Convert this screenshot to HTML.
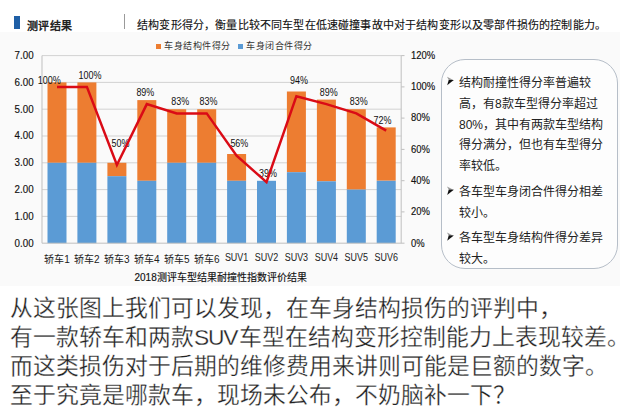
<!DOCTYPE html>
<html lang="zh-CN">
<head>
<meta charset="utf-8">
<style>
html,body{margin:0;padding:0;}
body{width:620px;height:417px;overflow:hidden;background:#fff;position:relative;font-family:"Liberation Sans",sans-serif;color:#222;}
.a{position:absolute;white-space:nowrap;line-height:1;}
#ttl{left:27px;top:20.5px;font-size:11px;letter-spacing:0.4px;font-weight:bold;color:#222;}
#bar{left:14px;top:16px;width:6px;height:13px;background:#1f5fa6;}
#sep{left:124px;top:14px;width:1px;height:15px;background:#9a9a9a;}
#hdr{left:137px;top:20px;font-size:11px;letter-spacing:0.17px;color:#111;-webkit-text-stroke:0.12px #111;}
.lg{font-size:9px;color:#333;top:42px;letter-spacing:0.5px;}
.sq{width:5px;height:5px;top:44px;}
#box{left:441px;top:59px;width:174.5px;height:208px;border:1.3px solid #b6bec8;background:#fdfdfd;border-radius:24px;}
.bt{font-size:12px;color:#222;}
.bl{font-size:9px;color:#111;}
#bottom{left:10px;top:294px;font-size:22.8px;line-height:29px;color:#222;-webkit-text-stroke:0.3px #fff;}
</style>
</head>
<body>
<div class="a" style="left:0;top:32px;width:620px;height:254px;background:#fafafa"></div>
<div id="bar" class="a"></div>
<div id="ttl" class="a">测评结果</div>
<div id="sep" class="a"></div>
<div id="hdr" class="a">结构变形得分，衡量比较不同车型在低速碰撞事故中对于结构变形以及零部件损伤的控制能力。</div>

<div class="a sq" style="left:156px;background:#ED7D31"></div>
<div class="a lg" style="left:164px">车身结构件得分</div>
<div class="a sq" style="left:238px;background:#5B9BD5"></div>
<div class="a lg" style="left:246px">车身闭合件得分</div>

<svg class="a" style="left:0;top:0" width="620" height="417" viewBox="0 0 620 417">
<g stroke="#d2d2d2" stroke-width="1">
<line x1="42" y1="55.6" x2="401.2" y2="55.6"/>
<line x1="42" y1="82.4" x2="401.2" y2="82.4"/>
<line x1="42" y1="109.2" x2="401.2" y2="109.2"/>
<line x1="42" y1="136" x2="401.2" y2="136"/>
<line x1="42" y1="162.8" x2="401.2" y2="162.8"/>
<line x1="42" y1="189.6" x2="401.2" y2="189.6"/>
<line x1="42" y1="216.4" x2="401.2" y2="216.4"/>
</g>
<rect x="47.5" y="82.4" width="19" height="80.4" fill="#ED7D31"/>
<rect x="47.5" y="162.8" width="19" height="80.4" fill="#5B9BD5"/>
<rect x="77.4" y="82.4" width="19" height="80.4" fill="#ED7D31"/>
<rect x="77.4" y="162.8" width="19" height="80.4" fill="#5B9BD5"/>
<rect x="107.4" y="162.8" width="19" height="13.4" fill="#ED7D31"/>
<rect x="107.4" y="176.2" width="19" height="67.0" fill="#5B9BD5"/>
<rect x="137.3" y="100.1" width="19" height="80.7" fill="#ED7D31"/>
<rect x="137.3" y="180.8" width="19" height="62.4" fill="#5B9BD5"/>
<rect x="167.2" y="109.2" width="19" height="53.6" fill="#ED7D31"/>
<rect x="167.2" y="162.8" width="19" height="80.4" fill="#5B9BD5"/>
<rect x="197.2" y="109.2" width="19" height="53.6" fill="#ED7D31"/>
<rect x="197.2" y="162.8" width="19" height="80.4" fill="#5B9BD5"/>
<rect x="227.1" y="154.0" width="19" height="26.8" fill="#ED7D31"/>
<rect x="227.1" y="180.8" width="19" height="62.4" fill="#5B9BD5"/>
<rect x="257.0" y="180.8" width="19" height="62.4" fill="#5B9BD5"/>
<rect x="286.9" y="91.5" width="19" height="80.7" fill="#ED7D31"/>
<rect x="286.9" y="172.2" width="19" height="71.0" fill="#5B9BD5"/>
<rect x="316.9" y="99.6" width="19" height="81.7" fill="#ED7D31"/>
<rect x="316.9" y="181.3" width="19" height="61.9" fill="#5B9BD5"/>
<rect x="346.8" y="109.2" width="19" height="80.4" fill="#ED7D31"/>
<rect x="346.8" y="189.6" width="19" height="53.6" fill="#5B9BD5"/>
<rect x="376.7" y="127.4" width="19" height="53.3" fill="#ED7D31"/>
<rect x="376.7" y="180.8" width="19" height="62.4" fill="#5B9BD5"/>
<g stroke="#bfbfbf" stroke-width="1" fill="none">
<line x1="42" y1="55.6" x2="42" y2="243.2"/>
<line x1="401.2" y1="55.6" x2="401.2" y2="243.2"/>
<line x1="42" y1="243.2" x2="404.5" y2="243.2"/>
<line x1="401.2" y1="55.6" x2="404.5" y2="55.6"/>
<line x1="401.2" y1="86.9" x2="404.5" y2="86.9"/>
<line x1="401.2" y1="118.1" x2="404.5" y2="118.1"/>
<line x1="401.2" y1="149.4" x2="404.5" y2="149.4"/>
<line x1="401.2" y1="180.7" x2="404.5" y2="180.7"/>
<line x1="401.2" y1="211.9" x2="404.5" y2="211.9"/>
</g>

<g font-family="Liberation Sans" font-size="10" fill="#111" stroke="#111" stroke-width="0.15">
<text x="14.6" y="58.8" textLength="19" lengthAdjust="spacingAndGlyphs">7.00</text>
<text x="14.6" y="85.7" textLength="19" lengthAdjust="spacingAndGlyphs">6.00</text>
<text x="14.6" y="112.5" textLength="19" lengthAdjust="spacingAndGlyphs">5.00</text>
<text x="14.6" y="139.4" textLength="19" lengthAdjust="spacingAndGlyphs">4.00</text>
<text x="14.6" y="166.2" textLength="19" lengthAdjust="spacingAndGlyphs">3.00</text>
<text x="14.6" y="193.1" textLength="19" lengthAdjust="spacingAndGlyphs">2.00</text>
<text x="14.6" y="219.9" textLength="19" lengthAdjust="spacingAndGlyphs">1.00</text>
<text x="14.6" y="246.8" textLength="19" lengthAdjust="spacingAndGlyphs">0.00</text>
</g>
<g font-family="Liberation Sans" font-size="10" fill="#111" stroke="#111" stroke-width="0.15">
<text x="411" y="58.7" textLength="24.2" lengthAdjust="spacingAndGlyphs">120%</text>
<text x="411" y="90.0" textLength="24.2" lengthAdjust="spacingAndGlyphs">100%</text>
<text x="411" y="121.4" textLength="18.9" lengthAdjust="spacingAndGlyphs">80%</text>
<text x="411" y="152.8" textLength="18.9" lengthAdjust="spacingAndGlyphs">60%</text>
<text x="411" y="184.1" textLength="18.9" lengthAdjust="spacingAndGlyphs">40%</text>
<text x="411" y="215.4" textLength="18.9" lengthAdjust="spacingAndGlyphs">20%</text>
<text x="411" y="246.8" textLength="13.6" lengthAdjust="spacingAndGlyphs">0%</text>
</g>
<g font-family="Liberation Sans" font-size="10" fill="#111" >
<text x="37.7" y="83.9" textLength="23.0" lengthAdjust="spacingAndGlyphs">100%</text>
<text x="78.4" y="78.5" textLength="23.0" lengthAdjust="spacingAndGlyphs">100%</text>
<text x="111.5" y="146.5" textLength="17.9" lengthAdjust="spacingAndGlyphs">50%</text>
<text x="136.4" y="96.1" textLength="17.9" lengthAdjust="spacingAndGlyphs">89%</text>
<text x="171.2" y="105.2" textLength="17.9" lengthAdjust="spacingAndGlyphs">83%</text>
<text x="199.5" y="105.2" textLength="17.9" lengthAdjust="spacingAndGlyphs">83%</text>
<text x="230.4" y="146.5" textLength="17.9" lengthAdjust="spacingAndGlyphs">56%</text>
<text x="259" y="176.5" textLength="17.9" lengthAdjust="spacingAndGlyphs">39%</text>
<text x="290" y="84.2" textLength="17.9" lengthAdjust="spacingAndGlyphs">94%</text>
<text x="319.7" y="96.1" textLength="17.9" lengthAdjust="spacingAndGlyphs">89%</text>
<text x="349.8" y="105.2" textLength="17.9" lengthAdjust="spacingAndGlyphs">83%</text>
<text x="373.5" y="124.3" textLength="17.9" lengthAdjust="spacingAndGlyphs">72%</text>
</g>
<polyline points="57.0,86.9 86.9,86.9 116.9,165.0 146.8,104.1 176.7,113.4 206.7,113.4 236.6,155.7 266.5,182.2 296.4,96.2 326.4,104.1 356.3,113.4 386.2,130.6" fill="none" stroke="#da0b16" stroke-width="2.5" stroke-linejoin="miter"/>
<g font-family="Liberation Sans" font-size="10" fill="#222" text-anchor="middle">
<text x="57" y="263">轿车1</text>
<text x="86.9" y="263">轿车2</text>
<text x="116.9" y="263">轿车3</text>
<text x="146.8" y="263">轿车4</text>
<text x="176.7" y="263">轿车5</text>
<text x="206.7" y="263">轿车6</text>
<text x="236.6" y="261" textLength="23.4" lengthAdjust="spacingAndGlyphs">SUV1</text>
<text x="266.5" y="261" textLength="23.4" lengthAdjust="spacingAndGlyphs">SUV2</text>
<text x="296.4" y="261" textLength="23.4" lengthAdjust="spacingAndGlyphs">SUV3</text>
<text x="326.4" y="261" textLength="23.4" lengthAdjust="spacingAndGlyphs">SUV4</text>
<text x="356.3" y="261" textLength="23.4" lengthAdjust="spacingAndGlyphs">SUV5</text>
<text x="386.2" y="261" textLength="23.4" lengthAdjust="spacingAndGlyphs">SUV6</text>
</g>
<text x="134.5" y="281" font-family="Liberation Sans" font-size="10" fill="#111" stroke="#111" stroke-width="0.15">2018测评车型结果耐撞性指数评价结果</text>
</svg>

<div id="box" class="a"></div>

<div class="a bt" style="left:459px;top:73px;line-height:20.8px">结构耐撞性得分率普遍较<br>高，有8款车型得分率超过<br>80%，其中有两款车型结构<br>得分满分，但也有车型得分<br>率较低。</div>

<div class="a bt" style="left:459px;top:182.2px;line-height:20.4px">各车型车身闭合件得分相差<br>较小。</div>

<div class="a bt" style="left:459px;top:228.1px;line-height:21px">各车型车身结构件得分差异<br>较大。</div>

<svg class="a" style="left:0;top:0" width="620" height="417"><polygon points="447,76.8 453.8,80.3 448.9,80.3" fill="#9a9a9a"/><polygon points="448.7,80.0 453.8,80.0 447.2,85.2" fill="#111"/><polygon points="447,186.6 453.8,190.1 448.9,190.1" fill="#9a9a9a"/><polygon points="448.7,189.8 453.8,189.8 447.2,195.0" fill="#111"/><polygon points="447,232.4 453.8,235.9 448.9,235.9" fill="#9a9a9a"/><polygon points="448.7,235.6 453.8,235.6 447.2,240.8" fill="#111"/></svg>
<div id="bottom" class="a">从这张图上我们可以发现，在车身结构损伤的评判中，<br>有一款轿车和两款<span style="letter-spacing:-1.2px;margin-right:1.5px">SUV</span>车型在结构变形控制能力上表现较差。<br>而这类损伤对于后期的维修费用来讲则可能是巨额的数字。<br>至于究竟是哪款车，现场未公布，不奶脑补一下？</div>
</body>
</html>
